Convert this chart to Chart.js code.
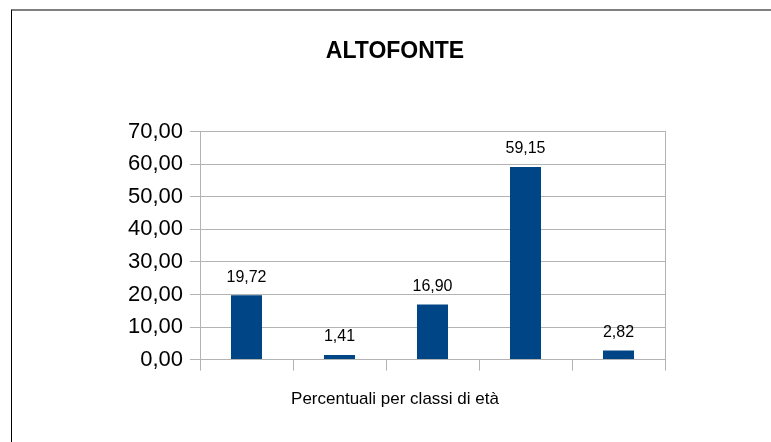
<!DOCTYPE html>
<html>
<head>
<meta charset="utf-8">
<script src="https://cdn.jsdelivr.net/npm/chart.js@4/dist/chart.umd.min.js"></script>
<style>
  html, body { margin: 0; padding: 0; background: #fff; overflow: hidden; }
  #frame {
    position: absolute; left: 11px; top: 9px;
    width: 770px; height: 431px;
    border-top: 2px solid #808080;
    border-left: 1px solid #000;
  }
  #wrap { position: relative; width: 770px; height: 431px; }
</style>
</head>
<body>
<div id="frame"><div id="wrap"><canvas id="chart"></canvas></div></div>
<script>
// age classes (not shown on the axis in the original)
const categories = ['1', '2', '3', '4', '5'];
// percent per age class
const values = [19.72, 1.41, 16.90, 59.15, 2.82];
const yTicks = [0, 10, 20, 30, 40, 50, 60, 70];

const fmt = v => v.toFixed(2).replace('.', ',');
const gridColor = '#b3b3b3';

// draw value above each bar
const barLabels = {
  id: 'barLabels',
  afterDatasetsDraw(chart) {
    const ctx = chart.ctx;
    const meta = chart.getDatasetMeta(0);
    ctx.save();
    ctx.font = '16px "Liberation Sans", Arial, sans-serif';
    ctx.fillStyle = '#000';
    ctx.textAlign = 'center';
    ctx.textBaseline = 'middle';
    meta.data.forEach((bar, i) => {
      ctx.fillText(fmt(values[i]), bar.x, bar.y - 18);
    });
    ctx.restore();
  }
};

new Chart(document.getElementById('chart'), {
  type: 'bar',
  plugins: [barLabels],
  data: {
    labels: categories,
    datasets: [{
      data: values,
      backgroundColor: '#004586',
      barPercentage: 0.667,
      categoryPercentage: 0.5
    }]
  },
  options: {
    responsive: true,
    maintainAspectRatio: false,
    animation: false,
    layout: { padding: { left: 113, right: 117, top: 0, bottom: 0 } },
    plugins: {
      legend: { display: false },
      tooltip: { enabled: false },
      title: {
        display: true,
        text: 'ALTOFONTE',
        color: '#000',
        font: { family: '"Liberation Sans", Arial, sans-serif', size: 23, weight: 'bold' },
        padding: { top: 27, bottom: 66 }
      },
      subtitle: {
        display: true,
        position: 'bottom',
        text: 'Percentuali per classi di età',
        color: '#000',
        font: { family: '"Liberation Sans", Arial, sans-serif', size: 17 },
        padding: { top: 19, bottom: 32 }
      }
    },
    scales: {
      x: {
        offset: true,
        ticks: { display: false },
        grid: {
          offset: true,
          drawOnChartArea: false,
          drawTicks: true,
          tickLength: 11,
          color: gridColor
        },
        border: { display: false }
      },
      y: {
        min: 0,
        max: 70,
        afterBuildTicks: scale => { scale.ticks = yTicks.map(v => ({ value: v })); },
        afterFit: scale => { scale.width = 75; },
        ticks: {
          color: '#000',
          padding: 7,
          font: { family: '"Liberation Sans", Arial, sans-serif', size: 22 },
          callback: v => fmt(v)
        },
        grid: { color: gridColor, tickLength: 10 },
        border: { color: gridColor }
      },
      y2: {
        position: 'right',
        min: 0,
        max: 70,
        afterFit: scale => { scale.width = 0; },
        ticks: { display: false },
        grid: { drawOnChartArea: false, drawTicks: false },
        border: { display: true, color: gridColor }
      }
    }
  }
});
</script>
</body>
</html>
